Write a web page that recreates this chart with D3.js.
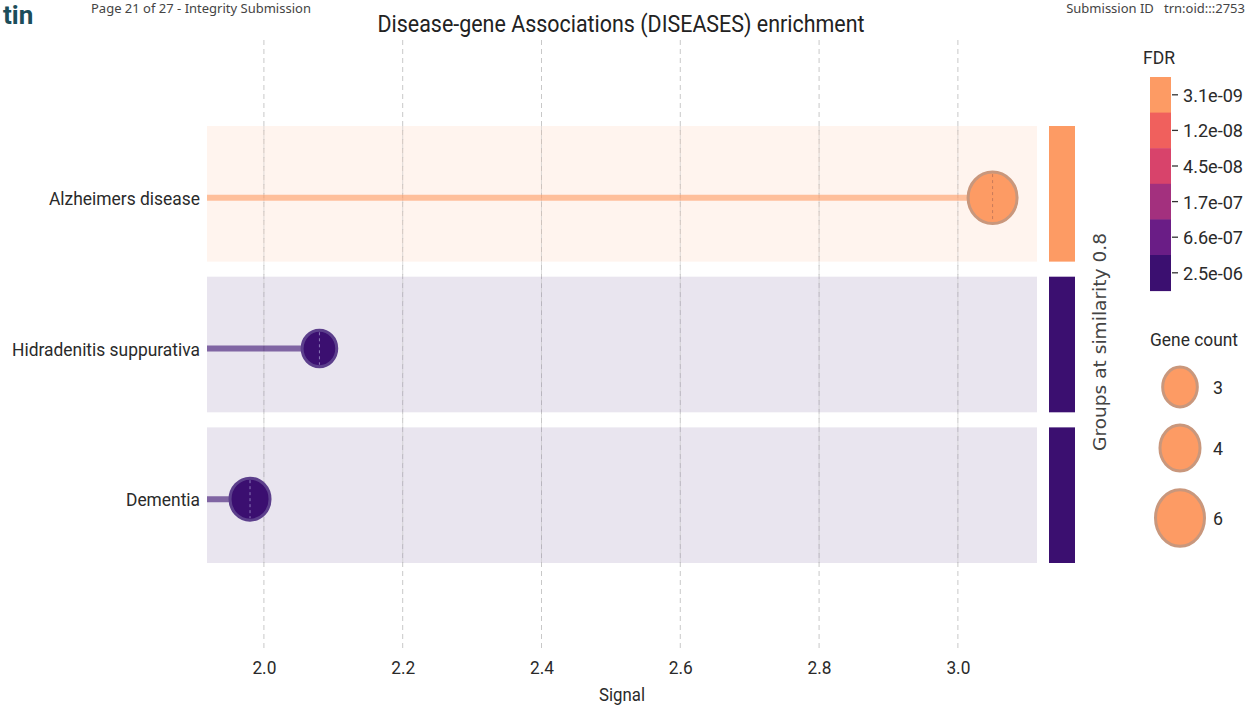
<!DOCTYPE html>
<html><head><meta charset="utf-8">
<script src="https://cdn.jsdelivr.net/npm/d3@7"></script>
<style>
html,body{margin:0;padding:0;background:#fff;}
svg text{font-family:Roboto, "Liberation Sans", sans-serif;}
</style></head>
<body>
<svg id="chart" width="1247" height="708"></svg>
<script>
// ---- data ----
const terms = ["Alzheimers disease", "Hidradenitis suppurativa", "Dementia"];
const signal = [3.05, 2.08, 1.98];
const fdr = [3.1e-09, 2.5e-06, 2.5e-06];
const geneCount = [6, 3, 4];
const xTicks = [2.0, 2.2, 2.4, 2.6, 2.8, 3.0];
const fdrTicks = [3.1e-09, 1.2e-08, 4.5e-08, 1.7e-07, 6.6e-07, 2.5e-06];
const fdrTickLabels = ["3.1e-09", "1.2e-08", "4.5e-08", "1.7e-07", "6.6e-07", "2.5e-06"];
const fdrColors = ["#fd9b64", "#f0605d", "#d8436b", "#a3307e", "#6a1d86", "#3b0f70"];
const sizeLegend = [3, 4, 6];
const labelWidths = [151, 188, 74];

const svg = d3.select("#chart");

// header (PDF page overlay)
svg.append("text").attr("x", 3).attr("y", 24).attr("font-size", 26).attr("font-weight", 700)
  .attr("fill", "#1c4d5a").attr("font-family", "Lato, sans-serif").text("tin");
svg.append("text").attr("x", 91).attr("y", 13).attr("font-size", 13).attr("fill", "#444")
  .style("font-family", "'Noto Sans', sans-serif").text("Page 21 of 27 - Integrity Submission");
svg.append("text").attr("x", 1245).attr("y", 13).attr("font-size", 13).attr("fill", "#444")
  .attr("text-anchor", "end").style("font-family", "'Noto Sans', sans-serif").text("Submission ID\u00a0\u00a0 trn:oid:::2753");

// title
svg.append("text").attr("x", 621).attr("y", 32).attr("text-anchor", "middle")
  .attr("font-size", 23).attr("fill", "#222").attr("textLength", 487).attr("lengthAdjust", "spacingAndGlyphs")
  .text("Disease-gene Associations (DISEASES) enrichment");

// scales
const x = d3.scaleLinear().domain([1.918, 3.114]).range([207, 1037]);
const y = d3.scaleBand().domain(terms).range([126, 563]).paddingInner(0.1).paddingOuter(0);
const color = d3.scaleLog().domain(fdrTicks).range(fdrColors).interpolate(d3.interpolateRgb);
const size = d3.scaleSqrt().domain([0, 6]).range([0, 24.5]);
const pointOffset = 4; // points sit slightly below band centre
const cy = t => y(t) + y.bandwidth() / 2 + pointOffset;

const rows = terms.map((t, i) => ({term: t, signal: signal[i], fdr: fdr[i], count: geneCount[i], lw: labelWidths[i]}));

// gridlines
svg.append("g").selectAll("line").data(xTicks).join("line")
  .attr("x1", d => x(d)).attr("x2", d => x(d)).attr("y1", 40).attr("y2", 650)
  .attr("stroke", "#c8c8c8").attr("stroke-width", 1).attr("stroke-dasharray", "5,4");

// background bands
svg.append("g").selectAll("rect").data(rows).join("rect")
  .attr("x", 207).attr("width", 830).attr("y", d => y(d.term)).attr("height", y.bandwidth())
  .attr("fill", d => color(d.fdr)).attr("fill-opacity", 0.11);

// gridlines faintly visible over bands
svg.append("g").selectAll("line").data(xTicks).join("line")
  .attr("x1", d => x(d)).attr("x2", d => x(d)).attr("y1", 126).attr("y2", 563)
  .attr("stroke", "#c8c8c8").attr("stroke-opacity", 0.6).attr("stroke-dasharray", "5,4");

// group bars
svg.append("g").selectAll("rect").data(rows).join("rect")
  .attr("x", 1049).attr("width", 26).attr("y", d => y(d.term)).attr("height", y.bandwidth())
  .attr("fill", d => color(d.fdr));

// lollipop stems
svg.append("g").selectAll("line").data(rows).join("line")
  .attr("x1", x.range()[0]).attr("x2", d => x(d.signal))
  .attr("y1", d => cy(d.term)).attr("y2", d => cy(d.term))
  .attr("stroke", d => color(d.fdr)).attr("stroke-opacity", 0.6).attr("stroke-width", 6);

// points
const pts = svg.append("g").selectAll("g").data(rows).join("g")
  .attr("transform", d => `translate(${x(d.signal)},${cy(d.term)})`);
pts.append("ellipse").attr("rx", d => size(d.count)).attr("ry", d => size(d.count) * 1.05)
  .attr("fill", d => color(d.fdr))
  .attr("stroke", d => d.fdr < 1e-8 ? "#c9977c" : "#5c3f8c").attr("stroke-width", 3);
pts.append("line").attr("x1", 0).attr("x2", 0)
  .attr("y1", d => -size(d.count) * 1.05 + 2).attr("y2", d => size(d.count) * 1.05 - 2)
  .attr("stroke", d => d.fdr < 1e-8 ? "#c87a5a" : "#8c78b8").attr("stroke-width", 1).attr("stroke-dasharray", "3,3");

// y labels
svg.append("g").selectAll("text").data(rows).join("text")
  .attr("x", 200).attr("y", d => cy(d.term) + 7)
  .attr("text-anchor", "end").attr("font-size", 19).attr("fill", "#2a2a2a")
  .attr("textLength", d => d.lw).attr("lengthAdjust", "spacingAndGlyphs")
  .text(d => d.term);

// x axis
const xAxis = svg.append("g").attr("transform", "translate(0,650)")
  .call(d3.axisBottom(x).tickValues(xTicks).tickFormat(d3.format(".1f")).tickSize(0).tickPadding(11));
xAxis.select(".domain").remove();
xAxis.selectAll(".tick text").attr("font-size", 19).attr("fill", "#2a2a2a")
  .style("font-family", "Roboto, sans-serif")
  .attr("textLength", 24).attr("lengthAdjust", "spacingAndGlyphs");

svg.append("text").attr("x", 622).attr("y", 701).attr("text-anchor", "middle")
  .attr("font-size", 19).attr("fill", "#2a2a2a").attr("textLength", 46).attr("lengthAdjust", "spacingAndGlyphs").text("Signal");

// Groups label
svg.append("text").attr("transform", "translate(1106,342) rotate(-90)")
  .attr("text-anchor", "middle").attr("font-size", 17).attr("fill", "#444")
  .style("font-family", "'DejaVu Sans', sans-serif").attr("textLength", 218).attr("lengthAdjust", "spacingAndGlyphs")
  .text("Groups at similarity 0.8");

// FDR legend
svg.append("text").attr("x", 1143).attr("y", 64).attr("font-size", 19).attr("fill", "#2a2a2a")
  .attr("textLength", 32).attr("lengthAdjust", "spacingAndGlyphs").text("FDR");
const segH = 35.6, legTop = 77;
const leg = svg.append("g");
leg.selectAll("rect").data(fdrTicks).join("rect")
  .attr("x", 1150).attr("width", 21).attr("y", (d, i) => legTop + i * segH).attr("height", segH + 0.5)
  .attr("fill", d => color(d));
leg.selectAll("line").data(fdrTicks).join("line")
  .attr("x1", 1172).attr("x2", 1178).attr("y1", (d, i) => legTop + (i + 0.5) * segH).attr("y2", (d, i) => legTop + (i + 0.5) * segH)
  .attr("stroke", "#333").attr("stroke-width", 1.3);
leg.selectAll("text").data(fdrTickLabels).join("text")
  .attr("x", 1183).attr("y", (d, i) => legTop + (i + 0.5) * segH + 7)
  .attr("font-size", 19).attr("fill", "#2a2a2a").attr("textLength", 60).attr("lengthAdjust", "spacingAndGlyphs")
  .text(d => d);

// Gene count legend
svg.append("text").attr("x", 1150).attr("y", 346).attr("font-size", 19).attr("fill", "#2a2a2a")
  .attr("textLength", 88).attr("lengthAdjust", "spacingAndGlyphs").text("Gene count");
const sizeY = [387, 448, 518];
const sl = svg.append("g").selectAll("g").data(sizeLegend).join("g")
  .attr("transform", (d, i) => `translate(1180,${sizeY[i]})`);
sl.append("ellipse").attr("rx", d => size(d)).attr("ry", d => size(d) * 1.15)
  .attr("fill", fdrColors[0]).attr("stroke", "#c9977c").attr("stroke-width", 3);
sl.append("text").attr("x", 33).attr("y", 7).attr("font-size", 19).attr("fill", "#2a2a2a")
  .attr("textLength", 10).attr("lengthAdjust", "spacingAndGlyphs").text(d => d);
</script>
</body></html>
